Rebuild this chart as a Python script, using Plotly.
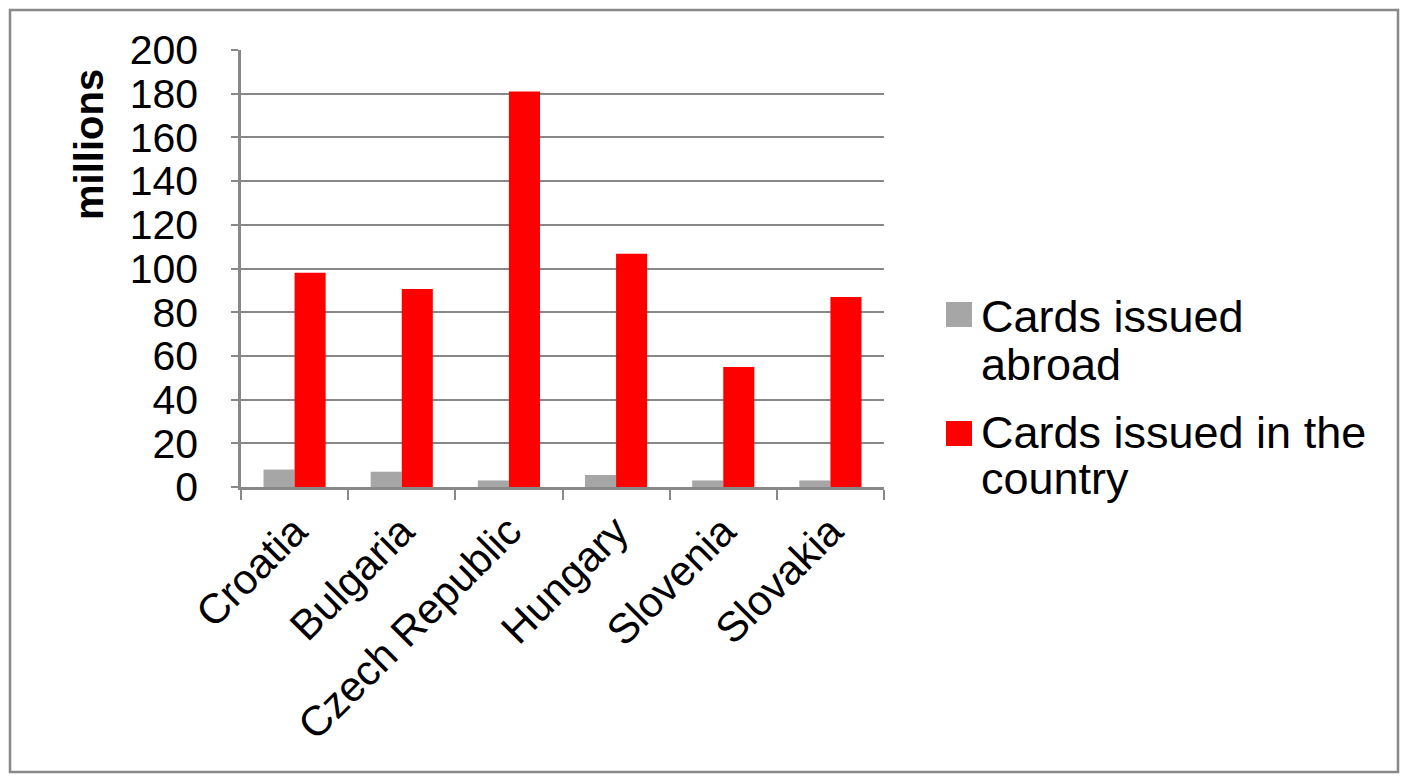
import plotly.graph_objects as go

countries = ["Croatia", "Bulgaria", "Czech Republic", "Hungary", "Slovenia", "Slovakia"]
abroad = [8, 7, 3, 5.5, 3, 3]
domestic = [98, 90.6, 181, 106.8, 54.9, 87]
series_names = ["Cards issued abroad", "Cards issued in the country"]
legend_lines = [["Cards issued", "abroad"], ["Cards issued in the", "country"]]
series_colors = ["#A6A6A6", "#FF0000"]
y_ticks = list(range(0, 201, 20))

OFF = 8  # page body margin
W, H = 1408 - OFF, 781 - OFF
L, R, T, B = 241 - OFF, 884 - OFF, 50 - OFF, 487 - OFF
PW, PH = R - L, B - T


def px(x):
    return (x - OFF - L) / PW


def py(y):
    return (B - (y - OFF)) / PH


FONT = "Liberation Sans, Arial, sans-serif"

fig = go.Figure()
for vals, name, col in zip([abroad, domestic], series_names, series_colors):
    fig.add_trace(go.Bar(x=countries, y=vals, name=name, marker_color=col,
                         marker_line_width=0, showlegend=False))

fig.update_layout(
    width=W, height=H,
    margin=dict(l=L, r=W - R, t=T, b=H - B),
    paper_bgcolor="white", plot_bgcolor="white",
    barmode="group", bargap=0.42, bargroupgap=0,
    font=dict(family=FONT, size=40, color="black"),
)
fig.update_yaxes(range=[0, 200], tickvals=y_ticks, showgrid=True, gridcolor="#888888",
                 gridwidth=2, showline=True, linecolor="#888888", linewidth=2.5,
                 ticks="outside", ticklen=7, tickwidth=2, tickcolor="#888888",
                 zeroline=False, tickfont=dict(size=41), ticklabelstandoff=25)
fig.update_xaxes(showline=True, linecolor="#888888", linewidth=2.5, ticks="outside",
                 tickson="boundaries", ticklen=10, tickwidth=2, tickcolor="#888888",
                 tickangle=-45, tickfont=dict(size=42), showgrid=False)

# outer border
fig.add_shape(type="rect", xref="paper", yref="paper",
              x0=px(10), x1=px(1398), y0=py(772), y1=py(10),
              line=dict(color="#898989", width=2.5), fillcolor="rgba(0,0,0,0)", layer="below")

# y-axis label
fig.add_annotation(text="<b>millions</b>", xref="paper", yref="paper", x=px(89), y=py(145),
                   textangle=-90, showarrow=False, font=dict(size=40, color="black"),
                   xanchor="center", yanchor="middle")

# manual legend (square top, square bottom, centre of each text line)
legend_geom = [(302, 327, [317, 364]), (421, 446, [432, 478])]
for (y0, y1, line_y), lines, col in zip(legend_geom, legend_lines, series_colors):
    fig.add_shape(type="rect", xref="paper", yref="paper", x0=px(946), x1=px(972),
                  y0=py(y1), y1=py(y0), fillcolor=col, line_width=0)
    for txt, yc in zip(lines, line_y):
        fig.add_annotation(text=txt, xref="paper", yref="paper", x=px(979), y=py(yc),
                           xanchor="left", yanchor="middle", align="left", showarrow=False,
                           font=dict(size=45, color="black"))

fig.write_html("out.html")
